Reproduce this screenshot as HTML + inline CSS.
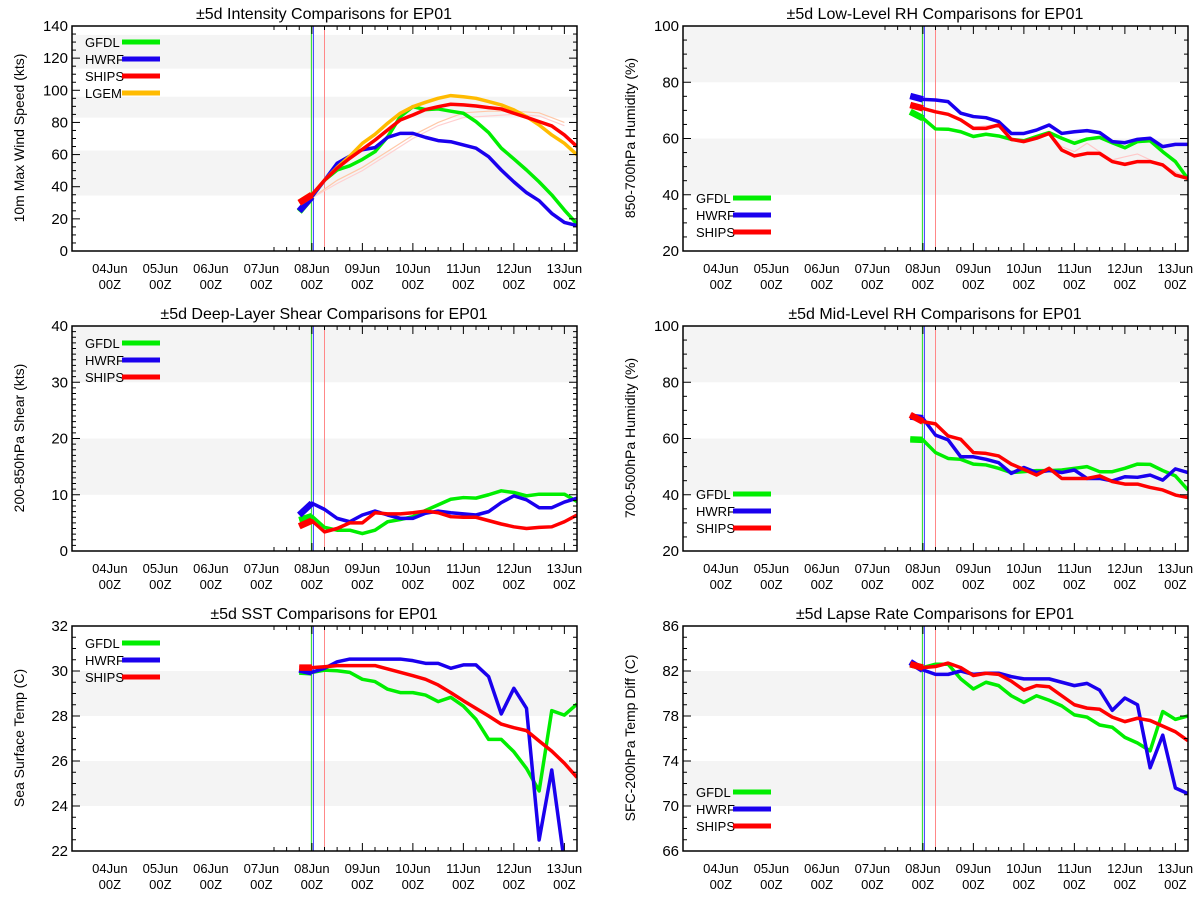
<!DOCTYPE html>
<html><head><meta charset="utf-8"><style>
body{margin:0;background:#fff}
svg{display:block;font-family:"Liberation Sans",sans-serif}
</style></head><body>
<svg id="c" width="1200" height="900" viewBox="0 0 1200 900"></svg>
<script>
const hours=[-6,0,6,12,18,24,30,36,42,48,54,60,66,72,78,84,90,96,102,108,114,120,126];
const dayLabels=['04Jun','05Jun','06Jun','07Jun','08Jun','09Jun','10Jun','11Jun','12Jun','13Jun'];
// Intensity
const intGFDL=[24.5,33.8,44,50.4,53,57,61.8,71,83.6,89.8,88,88.4,87,85.7,80.5,73.7,64,57.3,50.4,43,34.9,25.5,16.8];
const intHWRF=[24.9,33.8,44,54.6,59,63,64.3,70.7,73.2,73.2,70.7,68.7,68,66,64,58.7,50.4,43,36.3,31.3,23.4,17.8,15.8];
const intSHIPS=[30,34.9,44,51.5,57.7,63.3,69,75.3,81.5,84.6,88,89.8,91.3,90.9,90.2,89.2,88.4,85.7,83.2,80.5,77.8,72.2,65];
const intLGEM=[30,35,44,52,59,67,72.6,79.5,85.7,89.8,92.5,95,96.7,96,95,93,90.9,87.8,83.6,78.4,72.2,67,59.8];
const intFaintHours=[0,12,24,36,48,60,72,84,96,108,120];
const intFaint1=[33,44,52,62,72,80,86,87,87,86,80];
const intFaint2=[33,42,50,60,70,78,83,84,85,84,78];
// Low-level RH
const lrhGFDL=[69.5,67.2,63.4,63.3,62.4,60.7,61.5,60.9,59.7,59.2,60.7,62.1,60.1,58.3,59.8,60.4,58.5,56.7,58.9,59.2,55.3,51.8,45.6];
const lrhHWRF=[75.1,73.9,73.7,73.1,69,67.8,67.4,66,61.8,61.8,63,64.8,61.8,62.4,62.8,62.1,58.9,58.5,59.7,60.1,57.1,57.9,57.9];
const lrhSHIPS=[71.9,70.7,69.5,68.6,66.6,63.6,63.6,64.8,59.7,58.9,60.1,61.8,55.9,53.8,54.7,54.7,51.8,50.8,51.8,51.8,50.6,47,45.8];
const lrhFaint=[71.9,70.7,69.5,68.6,66.6,64,64.5,65,60,59,60.5,62,57.1,55.3,58.3,55.3,52.4,53.5,54.5,52.4,50,48.2,46];
// Shear
const shrGFDL=[5.5,6.2,4.2,3.7,3.7,3.1,3.7,5.2,5.6,6.1,7.2,8.2,9.2,9.5,9.4,10,10.7,10.4,9.8,10.1,10.1,10.1,8.8];
const shrHWRF=[6.4,8.5,7.4,5.8,5.2,6.4,7.1,6.4,5.8,5.8,6.7,7.1,6.8,6.6,6.4,7,8.6,9.8,9.1,7.7,7.7,8.7,9.4];
const shrSHIPS=[4.4,5.4,3.4,4,5,5,6.8,6.6,6.6,6.8,7.1,6.8,6.1,6,6,5.4,4.8,4.3,4,4.2,4.3,5.2,6.4];
// Mid-level RH
const mrhGFDL=[59.7,59.5,55,52.9,52.6,50.9,50.6,49.4,47.9,48.2,48.6,48.6,48.8,49.4,50,48.2,48.2,49.4,50.9,50.8,48.6,46.7,41.7];
const mrhHWRF=[67.8,67.2,61.2,59.5,53.5,53.5,52.6,51.4,47.6,49.7,47.9,48.6,47.9,48.8,45.8,45.8,44.9,46.4,46.2,47,45.2,49.2,47.9];
const mrhSHIPS=[68.4,66,65.2,60.9,59.7,55,54.7,53.8,50.9,49,47,49.4,45.8,45.8,45.8,46.7,44.7,43.8,43.8,42.6,41.7,39.9,39];
// SST
const sstGFDL=[29.97,29.94,30.04,30.01,29.94,29.63,29.53,29.19,29.04,29.04,28.93,28.64,28.83,28.44,27.85,26.96,26.96,26.41,25.67,24.67,28.24,28.04,28.53];
const sstHWRF=[30.07,29.94,30.12,30.41,30.53,30.53,30.53,30.53,30.53,30.46,30.34,30.34,30.12,30.27,30.27,29.75,28.09,29.23,28.34,22.49,25.6,21.5,21];
const sstSHIPS=[30.15,30.15,30.19,30.24,30.24,30.24,30.24,30.09,29.94,29.79,29.63,29.38,29.04,28.68,28.34,28,27.64,27.48,27.35,26.89,26.44,25.9,25.27];
// Lapse rate
const lapGFDL=[82.6,82.3,82.6,82.6,81.3,80.4,81,80.7,79.8,79.2,79.8,79.4,78.9,78.1,77.9,77.2,77,76.1,75.6,74.9,78.4,77.7,78];
const lapHWRF=[82.8,82.1,81.7,81.7,82,81.7,81.8,81.8,81.5,81.3,81.3,81.3,81,80.7,80.9,80.3,78.5,79.6,79,73.4,76.3,71.6,71.1];
const lapSHIPS=[82.6,82.3,82.4,82.7,82.3,81.6,81.8,81.7,81.1,80.3,80.7,80.6,79.8,79,78.7,78.6,77.9,77.5,77.8,77.6,77.1,76.6,75.8];

const NS='http://www.w3.org/2000/svg';
const svg=document.getElementById('c');
function mk(tag,attrs,parent){const e=document.createElementNS(NS,tag);for(const k in attrs)e.setAttribute(k,attrs[k]);(parent||svg).appendChild(e);return e;}
const COL={GFDL:'#00ee00',HWRF:'#1a00ee',SHIPS:'#ff0000',LGEM:'#ffbb00'};

function panel(cfg){
  const g=mk('g',{});
  
  
  const L=cfg.x0,R=cfg.x0+505,T=cfg.y0,B=cfg.y0+225;
  const sx=h=>L+(4.75+h/24)*50.5;
  const sy=v=>B-(v-cfg.ymin)/(cfg.ymax-cfg.ymin)*225;
  cfg.bands.forEach(b=>{const r=mk('rect',{x:L,y:sy(b[1]),width:505,height:sy(b[0])-sy(b[1]),fill:'#f4f4f4'},g);
    
    });
  const vl=[[sx(0)-0.5,'#22dd22'],[sx(0)+1.5,'#3333ff'],[sx(6),'#ff8888']];
  vl.forEach(v=>{const l=mk('line',{x1:v[0],x2:v[0],y1:T,y2:B,stroke:v[1],'stroke-width':1},g);
    
    });
  const cid='clip'+cfg.name;
  const cp=mk('clipPath',{id:cid},g);mk('rect',{x:L,y:T,width:505,height:225},cp);
  const sg=mk('g',{'clip-path':'url(#'+cid+')'},g);
  (cfg.faint||[]).forEach(f=>{
    const p=mk('polyline',{points:f.h.map((h,i)=>sx(h)+','+sy(f.v[i])).join(' '),fill:'none',stroke:f.c,'stroke-width':1.2},sg);
    
    
  });
  cfg.series.forEach(s=>{
    const p=mk('polyline',{points:hours.map((h,i)=>sx(h)+','+sy(s.v[i])).join(' '),fill:'none',stroke:COL[s.k],'stroke-width':3.5,'stroke-linejoin':'round'},sg);
    
    
    const p2=mk('line',{x1:sx(hours[0]),y1:sy(s.v[0]),x2:sx(hours[1]),y2:sy(s.v[1]),stroke:COL[s.k],'stroke-width':6.5},sg);
    
    
  });
  const fr=mk('rect',{x:L,y:T,width:505,height:225,fill:'none',stroke:'#000','stroke-width':1.5},g);
  
  
  for(let h=-18;h<=126;h+=6){const x=sx(h);if(x<L+1||x>R-1)continue;const len=(h%24===0)?8:4;
    mk('line',{x1:x,x2:x,y1:B,y2:B-len,stroke:'#000'},g);mk('line',{x1:x,x2:x,y1:T,y2:T+len,stroke:'#000'},g);}
  dayLabels.forEach((d,i)=>{const x=sx(-96+i*24);
    const t=mk('text',{x:x,y:B+22,'text-anchor':'middle','font-size':13},g);t.textContent=d;
    
    
    const t2=mk('text',{x:x,y:B+38,'text-anchor':'middle','font-size':13},g);t2.textContent='00Z';
    
    });
  for(let v=cfg.ymin;v<=cfg.ymax+1e-6;v+=cfg.minor){const y=sy(v);const q=(v-cfg.ymin)/cfg.major;const maj=Math.abs(q-Math.round(q))<1e-6;const len=maj?8:4;
    mk('line',{x1:L,x2:L+len,y1:y,y2:y,stroke:'#000'},g);mk('line',{x1:R,x2:R-len,y1:y,y2:y,stroke:'#000'},g);
    if(maj){const t=mk('text',{x:L-4,y:y+5,'text-anchor':'end','font-size':15},g);t.textContent=Math.round(v);
      
      }}
  const tt=mk('text',{x:L+252,y:T-7,'text-anchor':'middle','font-size':16},g);tt.textContent=cfg.title;
  
  
  const yt=mk('text',{x:0,y:0,'text-anchor':'middle','font-size':14,transform:'translate('+(L-48)+','+(T+112)+') rotate(-90)'},g);yt.textContent=cfg.ytitle;
  
  
  cfg.legend.forEach((k,i)=>{const y=cfg.legY+i*17;
    const lt=mk('text',{x:L+13,y:y+5,'font-size':13},g);lt.textContent=k;
    
    
    const ll=mk('line',{x1:L+50,x2:L+88,y1:y,y2:y,stroke:COL[k],'stroke-width':5},g);
    
    });
}
const L3=['GFDL','HWRF','SHIPS'];
panel({name:'intensity-panel',x0:72,y0:26,ymin:0,ymax:140,major:20,minor:5,title:'±5d Intensity Comparisons for EP01',ytitle:'10m Max Wind Speed (kts)',
  bands:[[34.5,62.5],[83,96],[113.5,134.5]],legY:42,legend:['GFDL','HWRF','SHIPS','LGEM'],
  faint:[{h:intFaintHours,v:intFaint1,c:'#ffc8a8'},{h:intFaintHours,v:intFaint2,c:'#ffd0d0'}],
  series:[{k:'GFDL',v:intGFDL},{k:'HWRF',v:intHWRF},{k:'LGEM',v:intLGEM},{k:'SHIPS',v:intSHIPS}]});
panel({name:'low-level-rh-panel',x0:683,y0:26,ymin:20,ymax:100,major:20,minor:5,title:'±5d Low-Level RH Comparisons for EP01',ytitle:'850-700hPa Humidity (%)',
  bands:[[40,60],[80,100]],legY:198,legend:L3,
  faint:[{h:hours,v:lrhFaint,c:'#ffc8c8'}],
  series:[{k:'GFDL',v:lrhGFDL},{k:'HWRF',v:lrhHWRF},{k:'SHIPS',v:lrhSHIPS}]});
panel({name:'shear-panel',x0:72,y0:326,ymin:0,ymax:40,major:10,minor:1,title:'±5d Deep-Layer Shear Comparisons for EP01',ytitle:'200-850hPa Shear (kts)',
  bands:[[10,20],[30,40]],legY:343,legend:L3,
  series:[{k:'GFDL',v:shrGFDL},{k:'HWRF',v:shrHWRF},{k:'SHIPS',v:shrSHIPS}]});
panel({name:'mid-level-rh-panel',x0:683,y0:326,ymin:20,ymax:100,major:20,minor:5,title:'±5d Mid-Level RH Comparisons for EP01',ytitle:'700-500hPa Humidity (%)',
  bands:[[40,60],[80,100]],legY:494,legend:L3,
  series:[{k:'GFDL',v:mrhGFDL},{k:'HWRF',v:mrhHWRF},{k:'SHIPS',v:mrhSHIPS}]});
panel({name:'sst-panel',x0:72,y0:626,ymin:22,ymax:32,major:2,minor:0.5,title:'±5d SST Comparisons for EP01',ytitle:'Sea Surface Temp (C)',
  bands:[[24,26],[28,30]],legY:643,legend:L3,
  series:[{k:'GFDL',v:sstGFDL},{k:'HWRF',v:sstHWRF},{k:'SHIPS',v:sstSHIPS}]});
panel({name:'lapse-rate-panel',x0:683,y0:626,ymin:66,ymax:86,major:4,minor:1,title:'±5d Lapse Rate Comparisons for EP01',ytitle:'SFC-200hPa Temp Diff (C)',
  bands:[[70,74],[78,82]],legY:792,legend:L3,
  series:[{k:'GFDL',v:lapGFDL},{k:'HWRF',v:lapHWRF},{k:'SHIPS',v:lapSHIPS}]});
</script>
</body></html>
